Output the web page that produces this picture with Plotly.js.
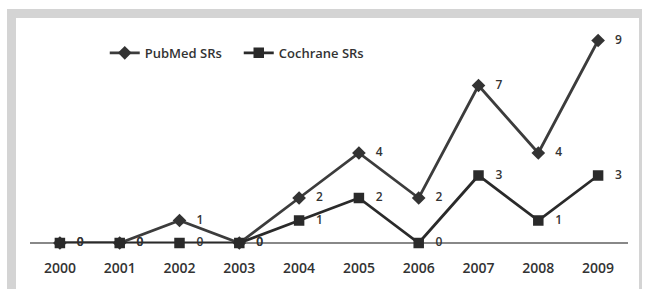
<!DOCTYPE html>
<html>
<head>
<meta charset="utf-8">
<script src="https://cdn.plot.ly/plotly-3.0.1.min.js"></script>
<style>
html,body{margin:0;padding:0;background:#fff;}
#outer{position:absolute;left:7px;top:9px;width:635px;height:280px;background:#d4d4d4;}
#inner{position:absolute;left:16px;top:18px;width:623px;height:271px;background:#fff;}
#chart{position:absolute;left:0;top:0;width:645px;height:289px;}
</style>
</head>
<body>
<div id="outer"></div>
<div id="inner"></div>
<div id="chart"></div>
<script>
const years = ['2000','2001','2002','2003','2004','2005','2006','2007','2008','2009'];
const pubmed = [0,0,1,0,2,4,2,7,4,9];
const cochrane = [0,0,0,0,1,2,0,3,1,3];
const seriesNames = ['PubMed SRs','Cochrane SRs'];

const lab = v => v.map(n => '\u00a0\u00a0\u00a0' + n);
const fontFam = '"Open Sans", sans-serif';

const traces = [
  {
    x: years, y: pubmed, name: seriesNames[0], type: 'scatter', mode: 'lines+markers+text',
    line: {color: '#3c3c3c', width: 2.8},
    marker: {symbol: 'diamond', size: 10.5, color: '#333'},
    text: lab(pubmed), textposition: 'middle right',
    textfont: {family: fontFam, size: 12, color: '#333', weight: 600},
    cliponaxis: false
  },
  {
    x: years, y: cochrane, name: seriesNames[1], type: 'scatter', mode: 'lines+markers+text',
    line: {color: '#2a2a2a', width: 2.8},
    marker: {symbol: 'square', size: 10.5, color: '#2a2a2a'},
    text: lab(cochrane), textposition: 'middle right',
    textfont: {family: fontFam, size: 12, color: '#333', weight: 600},
    cliponaxis: false
  }
];

const layout = {
  width: 645, height: 289,
  margin: {l: 30, r: 17, t: 18, b: 46},
  paper_bgcolor: 'rgba(0,0,0,0)',
  plot_bgcolor: 'rgba(0,0,0,0)',
  showlegend: true,
  legend: {
    orientation: 'h', x: 0.125, y: 0.845, xanchor: 'left', yanchor: 'middle',
    font: {family: fontFam, size: 13, color: '#333', weight: 600},
    entrywidth: 89, entrywidthmode: 'pixels',
    bgcolor: 'rgba(0,0,0,0)'
  },
  xaxis: {
    type: 'category', range: [-0.5, 9.5],
    showgrid: false, zeroline: false,
    showline: false, ticks: '',
    ticklabelstandoff: 15,
    tickfont: {family: fontFam, size: 14, color: '#333', weight: 600},
    fixedrange: true
  },
  yaxis: {
    range: [0, 10], showgrid: false, zeroline: true, zerolinecolor: '#888', zerolinewidth: 1.5,
    showticklabels: false, ticks: '', showline: false, fixedrange: true
  }
};

Plotly.newPlot('chart', traces, layout, {displayModeBar: false, staticPlot: true});
</script>
</body>
</html>
